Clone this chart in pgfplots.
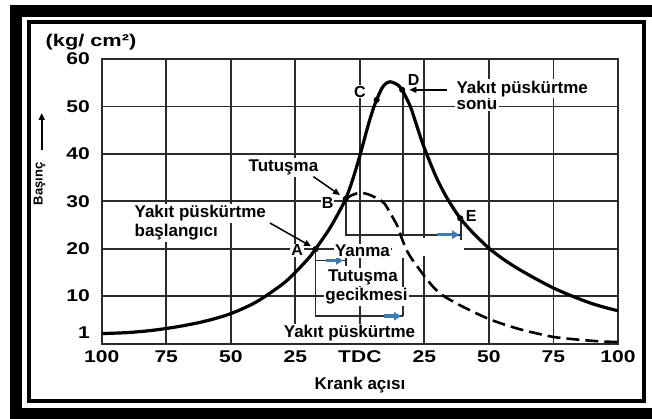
\documentclass[border=0pt]{standalone}
\usepackage{fontspec}
\setmainfont{Liberation Sans}
\usepackage{graphicx}
\usepackage{pgfplots}
\pgfplotsset{compat=1.18}
\usetikzlibrary{arrows.meta}
\definecolor{gridc}{HTML}{2B2B2B}
\definecolor{arrblue}{HTML}{3C7DB5}
\newcommand\tl[1]{\scalebox{1.24}[1]{#1}}
\begin{document}
\begin{tikzpicture}
\useasboundingbox (0pt,0pt) rectangle (652pt,-419pt);
\fill[black] (10pt,-5pt) rectangle (652pt,-419pt);
\fill[white] (22pt,-16.7pt) rectangle (652pt,-408pt);
\draw[black, line width=4pt] (28.7pt,-21.7pt) rectangle (643.5pt,-401pt);
\tikzset{ann/.style={font=\fontsize{17}{19}\selectfont\bfseries, fill=white, inner sep=1.5pt},
         lab/.style={font=\fontsize{16}{18}\selectfont\bfseries, fill=white, inner sep=1pt},
         brk/.style={gridc, line width=1.8pt},
         barr/.style={arrblue, line width=3.5pt, -{Triangle[length=7pt,width=8pt]}}}
\begin{axis}[
  at={(101.7pt,-343.5pt)}, anchor=south west,
  scale only axis, width=516.3pt, height=284.5pt,
  xmin=-100, xmax=100, ymin=0, ymax=60,
  xtick={-100,-75,...,100},
  xticklabels={\tl{100},\tl{75},\tl{50},\tl{25},\tl{TDC},\tl{25},\tl{50},\tl{75},\tl{100}},
  ytick={10,20,...,60},
  yticklabels={\tl{10},\tl{20},\tl{30},\tl{40},\tl{50},\tl{60}},
  extra y ticks={2.3}, extra y tick labels={\tl{1}}, extra y tick style={grid=none},
  grid=major, major grid style={gridc, line width=1.8pt},
  axis line style={gridc, line width=2pt},
  major tick length=0pt,
  tick label style={font=\fontsize{17}{17}\selectfont\bfseries},
  yticklabel style={inner sep=0pt, xshift=-11.7pt},
  xticklabel style={inner sep=0pt, yshift=-7pt},
  clip=false,
]
% white gap region
\fill[white] (axis cs:12.5,18.4) rectangle (axis cs:40.5,22.2);
% brackets
\draw[brk] (axis cs:-17.2,19.9) -- (axis cs:-17.2,5.75) -- (axis cs:16.7,5.75);
\draw[brk] (axis cs:16.7,53.5) -- (axis cs:16.7,22.95);
\draw[brk] (axis cs:16.7,18.1) -- (axis cs:16.7,5.75);
\draw[brk] (axis cs:-5.3,30.5) -- (axis cs:-5.3,22.95) -- (axis cs:39.3,22.95);
\draw[brk] (axis cs:39.3,26.3) -- (axis cs:39.3,21.9);
\draw[brk] (axis cs:-17.2,17.5) -- (axis cs:-5.3,17.5);
\draw[brk] (axis cs:-5.3,16.3) -- (axis cs:-5.3,18.6);
\draw[barr] (axis cs:30,22.95) -- (axis cs:38.5,22.95);
\draw[barr] (axis cs:-13.2,17.5) -- (axis cs:-6.5,17.5);
\draw[barr] (axis cs:9.2,5.75) -- (axis cs:16,5.75);
% text
\node[ann, anchor=west] at (axis cs:-87.9,27.5) {Yakıt püskürtme};
\node[ann, anchor=west] at (axis cs:-87.9,23.5) {başlangıcı};
\node[ann] at (axis cs:-29.6,37.1) {Tutuşma};
\node[ann] at (axis cs:1.0,19.5) {Yanma};
\node[ann] at (axis cs:1.2,14.0) {Tutuşma};
\node[ann] at (axis cs:2.6,9.9) {gecikmesi};
\node[ann, inner xsep=8pt] at (axis cs:-4.0,2.1) {Yakıt püskürtme};
\node[ann, anchor=west] at (axis cs:36.8,53.7) {Yakıt püskürtme};
\node[ann, anchor=west] at (axis cs:36.8,50.3) {sonu};
\node[lab] at (axis cs:-12.5,29.6) {B};
\node[lab] at (axis cs:-24.3,19.7) {A};
\node[lab] at (axis cs:0.06,53.1) {C};
\node[lab] at (axis cs:20.8,55.6) {D};
\node[lab] at (axis cs:43.1,26.8) {E};
% pointer arrows
\draw[black, line width=1.5pt, -{Triangle[length=7pt,width=6pt]}] (axis cs:-18.0,35.2) -- (axis cs:-7.7,31.3);
\draw[black, line width=1.5pt, -{Triangle[length=7pt,width=6pt]}] (axis cs:-34.8,25.4) -- (axis cs:-18.9,20.5);
\draw[black, line width=1.5pt, -{Triangle[length=7pt,width=6pt]}] (axis cs:33.6,53.5) -- (axis cs:19.2,53.5);
% curves
\addplot[black, line width=3.2pt, smooth] coordinates {
(-100,2.1) (-90,2.3) (-80,2.8) (-70,3.6) (-60,4.7) (-50,6.3) (-40,8.8)
(-30,12.5) (-25,15.0) (-20,17.9) (-17.2,19.9) (-12,24.0) (-8.5,27.3)
(-5.5,30.5) (-3,34.2) (0,39.6) (3,45.6) (5,49.2) (6.5,51.4) (8.5,53.8) (10,54.8)
(11.7,55.2) (13.5,54.9) (15,54.4) (16.4,53.5) (18,51.8) (19.7,49.8) (22,46)
(24,42.7) (26,39.8) (28,37.1) (30,34.6) (33,31.4) (36,28.7) (38.9,26.4) (42,24.4)
(45,22.7) (50,20.1) (55,18.0) (60,16.2) (65,14.6) (70,13.1) (75,11.7) (80,10.5)
(85,9.4) (90,8.4) (95,7.6) (100,6.9)};
\addplot[black, line width=2.6pt, dash pattern=on 13pt off 6pt, smooth] coordinates {
(-5.5,30.5) (-3,31.3) (0,31.8) (3,31.5) (6,30.8) (9.4,29.6) (12,27.3) (14.6,24.7)
(16.5,21.8) (18.5,19.3) (20.3,17.7) (22.3,16.2) (26,13.5) (29,11.6) (32.5,10)
(36,8.9) (39,8.0) (45,6.4) (50.3,5.1) (56,4.0) (62,3.0) (68,2.2) (74.8,1.4)
(81,1.0) (87,0.7) (93,0.45) (100,0.3)};
\addplot[only marks, mark=*, mark size=2.8pt, black] coordinates {
(-17.2,19.9) (-5.5,30.5) (6.5,51.4) (16.4,53.5) (38.9,26.4)};
\end{axis}
\node[font=\fontsize{17}{19}\selectfont\bfseries] at (91pt,-42pt) {\scalebox{1.28}[1]{(kg/ cm²)}};
\node[font=\fontsize{17}{19}\selectfont\bfseries] at (360pt,-385pt) {Krank açısı};
\node[font=\fontsize{13}{15}\selectfont\bfseries, rotate=90] at (39.5pt,-184pt) {Başınç};
\draw[black, line width=2pt, -{Triangle[length=7pt,width=6pt]}] (41.7pt,-150pt) -- (41.7pt,-113pt);
\end{tikzpicture}
\end{document}
